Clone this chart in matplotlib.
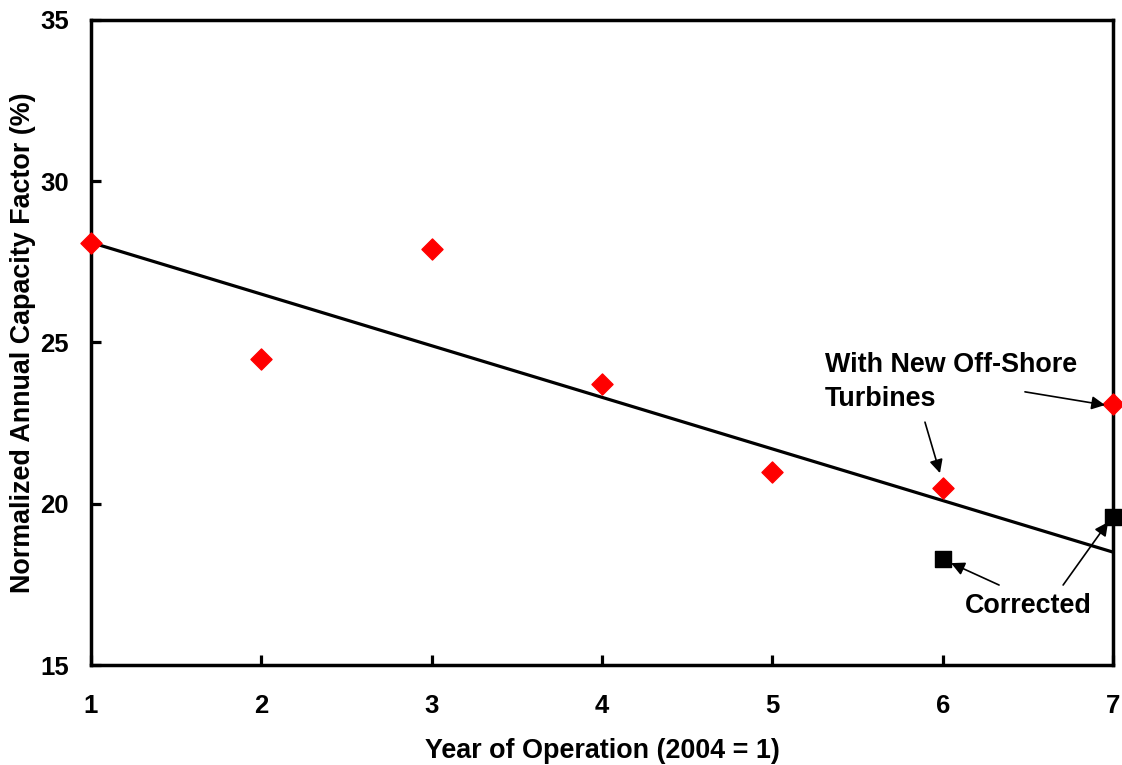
import numpy as np
import matplotlib
matplotlib.use("Agg")
from matplotlib import pyplot as plt

plt.rcParams['font.family'] = ['Liberation Sans', 'DejaVu Sans']
plt.rcParams['font.weight'] = 'bold'

# annual capacity factor by year of operation
years = [1, 2, 3, 4, 5, 6, 7]
capacity = [28.1, 24.5, 27.9, 23.7, 21.0, 20.5, 23.1]
# corrected values for the years with new off-shore turbines
corr_years = [6, 7]
corr_capacity = [18.3, 19.6]

# trend uses corrected values where available
trend_vals = capacity[:5] + corr_capacity
slope, icept = np.polyfit(years, trend_vals, 1)
xt = np.array([1, 7])

fig = plt.figure(figsize=(11.22, 7.65), dpi=100)
ax = fig.add_axes([0.0811, 0.1307, 0.9109, 0.8432])

ax.plot(xt, slope * xt + icept, color='black', lw=2.3, zorder=2)
ax.scatter(years, capacity, marker='D', s=115, color='#ff0000', zorder=3, clip_on=False)
ax.scatter(corr_years, corr_capacity, marker='s', s=130, color='black', zorder=3, clip_on=False)

ax.set_xlim(1, 7)
ax.set_ylim(15, 35)
ax.set_xticks(years)
ax.set_yticks([15, 20, 25, 30, 35])
for s in ax.spines.values():
    s.set_linewidth(2.5)
ax.tick_params(direction='in', length=7, width=2.3, labelsize=18.5,
               top=False, right=False)
ax.tick_params(axis='y', pad=16)
ax.tick_params(axis='x', pad=21)

ax.set_xlabel('Year of Operation (2004 = 1)', fontsize=19.4, fontweight='bold', labelpad=14)
ax.set_ylabel('Normalized Annual Capacity Factor (%)', fontsize=19.4, fontweight='bold', labelpad=3)

ax.text(5.31, 24.72, 'With New Off-Shore\nTurbines', fontsize=19.4, fontweight='bold',
        va='top', ha='left', linespacing=1.42)
ax.text(6.13, 16.83, 'Corrected', fontsize=19.4, fontweight='bold', va='center', ha='left')

arrow = dict(arrowstyle='-|>', color='black', lw=1.2, mutation_scale=20, shrinkA=0, shrinkB=0)
ax.annotate('', xy=(5.984, 20.95), xytext=(5.896, 22.53), arrowprops=arrow)
ax.annotate('', xy=(6.953, 23.06), xytext=(6.483, 23.47), arrowprops=arrow)
ax.annotate('', xy=(6.049, 18.16), xytext=(6.331, 17.48), arrowprops=arrow)
ax.annotate('', xy=(6.971, 19.43), xytext=(6.707, 17.48), arrowprops=arrow)

fig.savefig('out.png', dpi=100)
